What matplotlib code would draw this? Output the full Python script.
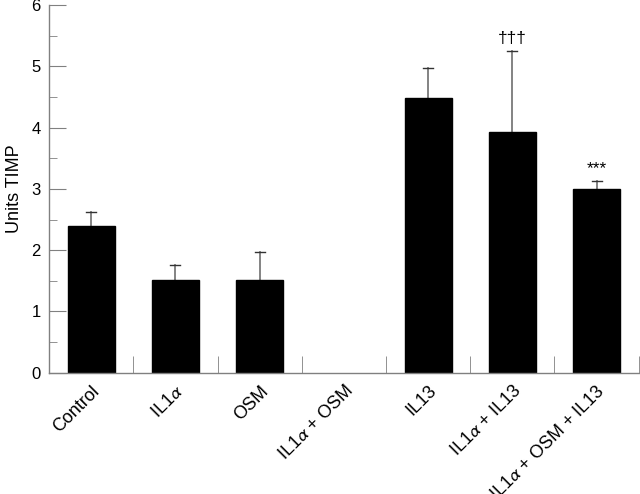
import matplotlib
matplotlib.use("Agg")
import matplotlib.pyplot as plt
import numpy as np
from matplotlib.ticker import MultipleLocator, FixedLocator

plt.rcParams['font.family'] = ['Liberation Sans', 'DejaVu Sans']
plt.rcParams['mathtext.fontset'] = 'stixsans'

categories = ["Control", "IL1$\\alpha$", "OSM", "IL1$\\alpha$ + OSM", "IL13",
              "IL1$\\alpha$ + IL13", "IL1$\\alpha$ + OSM + IL13"]
values = [2.39, 1.51, 1.51, 0.0, 4.48, 3.93, 2.99]
errors = [0.24, 0.24, 0.46, 0.0, 0.50, 1.32, 0.14]
annotations = ["", "", "", "", "", "\u2020\u2020\u2020", "***"]

fig = plt.figure(figsize=(6.4, 4.94), dpi=100)
ax = fig.add_axes([0.0766, 0.2455, 0.9214, 0.7444])

x = np.arange(len(categories))
spine_col = "#808080"
for xi, v, e, a in zip(x, values, errors, annotations):
    if v <= 0:
        continue
    ax.bar(xi, v, width=0.56, color="black", edgecolor="black", zorder=2)
    if e > 0:
        ax.plot([xi, xi], [v, v + e], color="#7a7a7a", lw=1.3, zorder=1)
        ax.plot([xi - 0.06, xi + 0.06], [v + e, v + e], color="#333333", lw=1.0, zorder=1)
    if a:
        ax.text(xi, v + e + 0.08, a, ha="center", va="bottom", fontsize=12.5)

ax.set_xlim(-0.5, len(categories) - 0.5)
ax.set_ylim(0, 6)

for s in ["top", "right"]:
    ax.spines[s].set_visible(False)
for s in ["left", "bottom"]:
    ax.spines[s].set_color(spine_col)
    ax.spines[s].set_linewidth(1.0)

ax.yaxis.set_major_locator(MultipleLocator(1))
ax.yaxis.set_minor_locator(MultipleLocator(0.5))
ax.tick_params(axis="y", which="major", direction="in", length=12, color=spine_col,
               labelsize=12, pad=6)
ax.tick_params(axis="y", which="minor", direction="in", length=6, color=spine_col)

ax.set_xticks(x)
ax.set_xticklabels(categories, rotation=45, ha="right", rotation_mode="anchor", fontsize=13)
ax.xaxis.set_minor_locator(FixedLocator(np.arange(0.5, len(categories), 1.0)))
ax.tick_params(axis="x", which="major", length=0, pad=7)
ax.tick_params(axis="x", which="minor", direction="in", length=12, color=spine_col)

ax.set_ylabel("Units TIMP", fontsize=13, labelpad=6)

fig.savefig("out.png", dpi=100)
